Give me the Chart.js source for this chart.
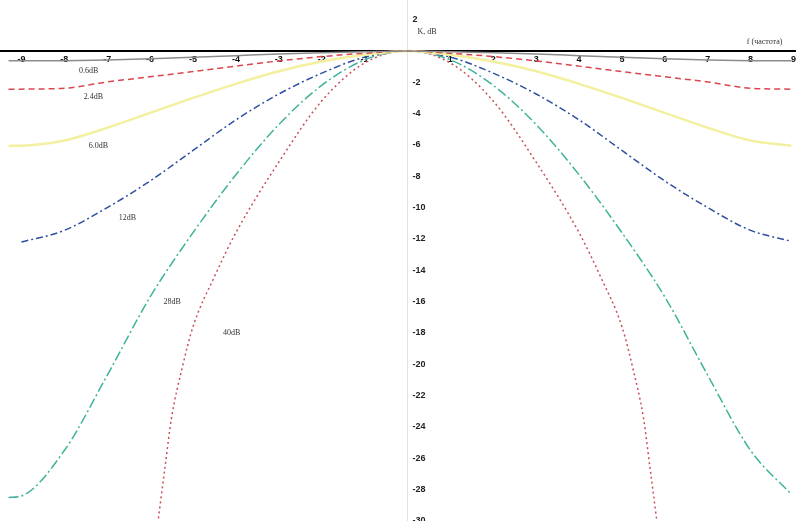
<!DOCTYPE html>
<html>
<head>
<meta charset="utf-8">
<script src="https://cdn.jsdelivr.net/npm/chart.js@4.4.0/dist/chart.umd.min.js"></script>
<style>
  html, body { margin: 0; padding: 0; background: #fff; }
  #wrap { width: 799px; height: 521px; position: relative; }
</style>
</head>
<body>
<div id="wrap"><canvas id="grafico"></canvas></div>
<script>
// Frequências (eixo x) e ticks
const freq = [-9.3, -9, -8, -7, -6, -5, -4, -3, -2, -1, 0, 1, 2, 3, 4, 5, 6, 7, 8, 8.95];
const freqIngreme = [-5.95, -5.8, -5.65, -5.5, -5.25, -5, -4.5, -4, -3, -2, -1, 0, 1, 2, 3, 4, 4.5, 5, 5.25, 5.5, 5.65, 5.8, 5.95];
const xTicks = [-9, -8, -7, -6, -5, -4, -3, -2, -1, 1, 2, 3, 4, 5, 6, 7, 8, 9];
const yTicks = [2, -2, -4, -6, -8, -10, -12, -14, -16, -18, -20, -22, -24, -26, -28, -30];

// Curvas (dB)
const curvaCinza = [-0.63, -0.63, -0.62, -0.58, -0.5, -0.4, -0.3, -0.2, -0.12, -0.05, 0, -0.05, -0.12, -0.2, -0.3, -0.4, -0.5, -0.58, -0.62, -0.63];
const curvaVermelha = [-2.45, -2.44, -2.38, -1.98, -1.65, -1.32, -0.97, -0.64, -0.36, -0.15, 0, -0.15, -0.36, -0.64, -0.97, -1.32, -1.65, -1.98, -2.38, -2.44];
const curvaAmarela = [-6.06, -6.05, -5.72, -4.9, -3.95, -3.0, -2.1, -1.3, -0.68, -0.25, 0, -0.25, -0.68, -1.3, -2.1, -3.0, -3.95, -4.9, -5.72, -6.05];
const curvaAzul = [null, -12.2, -11.45, -10.0, -8.3, -6.35, -4.4, -2.75, -1.42, -0.4, 0, -0.4, -1.42, -2.75, -4.4, -6.35, -8.3, -10.0, -11.45, -12.15];
const curvaVerde = [-28.5, -28.4, -25.5, -20.7, -15.7, -11.6, -7.9, -4.7, -2.2, -0.57, 0, -0.57, -2.2, -4.7, -7.9, -11.6, -15.7, -20.7, -25.5, -28.3];
const curvaIngreme = [-33, -29.7, -26.5, -23.4, -20.2, -17.6, -14.4, -11.6, -7.1, -3.2, -0.77, 0, -0.77, -3.2, -7.1, -11.6, -14.4, -17.6, -20.2, -23.4, -26.5, -29.7, -33];

// Rótulos das curvas
const nomesCurvas = ['0.6dB', '2.4dB', '6.0dB', '12dB', '28dB', '40dB'];
const tituloY = 'K, dB';
const tituloX = 'f (частота)';

function pontos(xs, ys) {
    return xs.map((x, i) => ({ x: x, y: ys[i] }));
}

// Plugin para os rótulos do eixo y (à direita do eixo) e textos
const rotulosPlugin = {
    id: 'rotulos',
    afterDraw(chart) {
        const ctx = chart.ctx;
        const sx = chart.scales.x;
        const sy = chart.scales.y;
        const x0 = sx.getPixelForValue(0);
        ctx.save();
        ctx.fillStyle = '#222';
        ctx.font = 'bold 9px "Liberation Sans"';
        ctx.textAlign = 'left';
        ctx.textBaseline = 'middle';
        yTicks.forEach(v => {
            ctx.fillText(String(v), x0 + 5, sy.getPixelForValue(v));
        });

        ctx.font = '8px "Liberation Serif"';
        ctx.fillStyle = '#333';
        ctx.fillText(tituloY, x0 + 10, sy.getPixelForValue(1.2));
        ctx.textAlign = 'right';
        ctx.fillText(tituloX, sx.getPixelForValue(8.74), sy.getPixelForValue(0.57));

        // posição dos nomes (coordenadas dos dados)
        const ancoras = [[-7.66, -1.28], [-7.55, -2.94], [-7.43, -6.06], [-6.73, -10.66], [-5.69, -16.0], [-4.3, -18.0]];
        ctx.textAlign = 'left';
        nomesCurvas.forEach((t, i) => {
            ctx.fillText(t, sx.getPixelForValue(ancoras[i][0]), sy.getPixelForValue(ancoras[i][1]));
        });
        ctx.restore();
    }
};

const estilo = {
    pointRadius: 0,
    borderWidth: 1.5,
    cubicInterpolationMode: 'monotone',
    fill: false
};

const ctx = document.getElementById('grafico').getContext('2d');
new Chart(ctx, {
    type: 'line',
    data: {
        datasets: [
            Object.assign({ label: nomesCurvas[0], data: pontos(freq, curvaCinza), borderColor: '#8c8c8c' }, estilo),
            Object.assign({ label: nomesCurvas[1], data: pontos(freq, curvaVermelha), borderColor: '#d9474f', borderDash: [6, 4] }, estilo),
            Object.assign({ label: nomesCurvas[2], data: pontos(freq, curvaAmarela), borderColor: '#f3f0a0' }, estilo, { borderWidth: 2.5 }),
            Object.assign({ label: nomesCurvas[3], data: pontos(freq, curvaAzul), borderColor: '#2f4f9f', borderDash: [7, 3, 2, 3] }, estilo),
            Object.assign({ label: nomesCurvas[4], data: pontos(freq, curvaVerde), borderColor: '#3fb39a', borderDash: [10, 3, 2, 3] }, estilo),
            Object.assign({ label: nomesCurvas[5], data: pontos(freqIngreme, curvaIngreme), borderColor: '#c9505a', borderDash: [2, 3] }, estilo)
        ]
    },
    options: {
        responsive: true,
        maintainAspectRatio: false,
        animation: false,
        layout: { padding: 0 },
        plugins: {
            legend: { display: false },
            tooltip: { enabled: false }
        },
        scales: {
            x: {
                type: 'linear',
                min: -9.5,
                max: 9.05,
                position: { y: 0 },
                afterBuildTicks: (scale) => { scale.ticks = xTicks.map(v => ({ value: v })); },
                grid: { display: false, drawTicks: false },
                border: { display: true, color: '#000', width: 2 },
                ticks: {
                    padding: 3,
                    color: '#111',
                    font: { size: 9, weight: 'bold', family: 'Liberation Sans' }
                }
            },
            y: {
                type: 'linear',
                min: -30,
                max: 3.25,
                position: { x: 0 },
                afterBuildTicks: (scale) => { scale.ticks = yTicks.map(v => ({ value: v })); },
                grid: { display: false, drawTicks: false },
                border: { display: true, color: '#e6e0e0', width: 1 },
                ticks: { display: false }
            }
        }
    },
    plugins: [rotulosPlugin]
});
</script>
</body>
</html>
